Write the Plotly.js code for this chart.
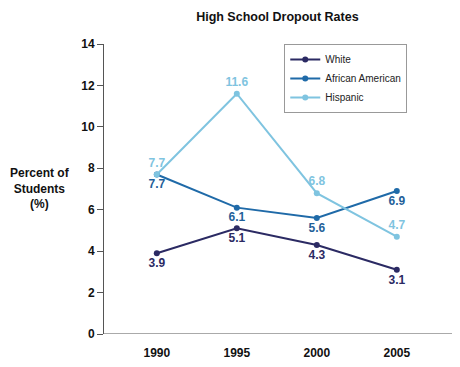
<!DOCTYPE html>
<html><head><meta charset="utf-8">
<script src="https://cdn.plot.ly/plotly-3.0.1.min.js"></script>
<style>body{margin:0;background:#fff}#chart{width:460px;height:367px}</style>
</head><body><div id="chart"></div>
<script>
const years = ["1990", "1995", "2000", "2005"];
const white = [3.9, 5.1, 4.3, 3.1];
const africanAmerican = [7.7, 6.1, 5.6, 6.9];
const hispanic = [7.7, 11.6, 6.8, 4.7];
const yTicks = [0, 2, 4, 6, 8, 10, 12, 14];

const idx = years.map((_, i) => i);
function series(name, y, color, textColor, pos) {
  return {
    type: 'scatter', mode: 'lines+markers+text', name: name,
    x: idx, y: y, text: y.map(v => v.toFixed(1)), textposition: pos,
    textfont: {family: 'Liberation Sans, Arial, sans-serif', size: 12, color: textColor, weight: 'bold'},
    line: {color: color, width: 2}, marker: {color: color, size: 6},
    cliponaxis: false, hoverinfo: 'skip'
  };
}
const data = [
  series('White', white, '#2b2a63', '#2b2a63', 'bottom center'),
  series('African American', africanAmerican, '#1f6aa8', '#1f5f99', 'bottom center'),
  series('Hispanic', hispanic, '#7fc4e0', '#7fc4e0', 'top center')
];
const layout = {
  width: 460, height: 367,
  margin: {l: 104, r: 8, t: 44, b: 33},
  paper_bgcolor: '#fff', plot_bgcolor: '#fff',
  font: {family: 'Liberation Sans, Arial, sans-serif', size: 12, color: '#111'},
  title: {text: '<b>High School Dropout Rates</b>', x: 0.603, xanchor: 'center', y: 0.956, yanchor: 'middle', font: {size: 12.5, color: '#111'}},
  showlegend: true,
  legend: {x: 0.518, y: 1, xanchor: 'left', yanchor: 'top', bordercolor: '#999', borderwidth: 1, bgcolor: '#fff',
           font: {size: 10, color: '#222'}, tracegroupgap: 0, itemwidth: 30},
  xaxis: {range: [-0.66, 3.69], tickvals: idx, ticktext: years.map(y => '<b>' + y + '</b>'),
          showgrid: false, zeroline: false, showline: false, ticks: '', ticklen: 0, ticklabelstandoff: 10,
          tickfont: {size: 12, color: '#111'}, fixedrange: true},
  yaxis: {range: [0, 14], tickvals: yTicks, ticktext: yTicks.map(v => '<b>' + v + '</b>'),
          showgrid: false, zeroline: false, showline: true, linecolor: '#555', linewidth: 1,
          ticks: 'outside', ticklen: 6, tickcolor: '#555', tickfont: {size: 12, color: '#111'}, fixedrange: true},
  shapes: [{type: 'line', xref: 'paper', yref: 'y', x0: 0, x1: 1, y0: 0, y1: 0, line: {color: '#555', width: 1}}],
  annotations: [{text: '<b>Percent of<br>Students<br>(%)</b>', xref: 'paper', yref: 'paper', x: -0.184, y: 0.503,
                 xanchor: 'center', yanchor: 'middle', showarrow: false, font: {size: 12, color: '#111'}}]
};
Plotly.newPlot('chart', data, layout, {displayModeBar: false, staticPlot: true});
</script></body></html>
